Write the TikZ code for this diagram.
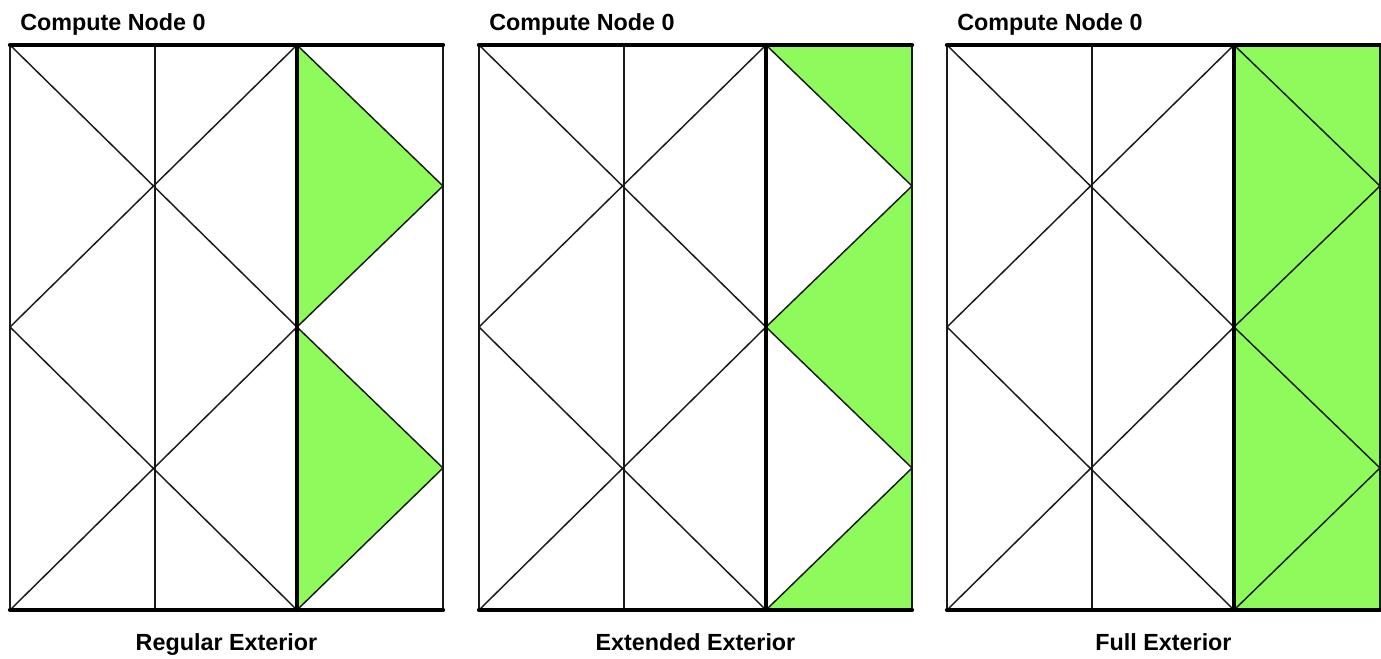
\documentclass[tikz,border=0pt]{standalone}
\usepackage{fontspec}
\setmainfont{Liberation Sans}
\usetikzlibrary{positioning}
\definecolor{Mesh}{HTML}{1A1A1A}
\definecolor{Ghost}{HTML}{8FFA5C}

\begin{document}
\begin{tikzpicture}[x=0.75pt,y=-0.75pt,
    meshline/.style={draw=Mesh,line width=1.1pt},
    boundline/.style={draw=black,line width=3.2pt,line cap=round},
    ghostcell/.style={fill=Ghost},
    paneltitle/.style={anchor=base west,font=\bfseries\fontsize{17.5}{20}\selectfont,inner sep=0pt},
    panelcap/.style={anchor=base,font=\bfseries\fontsize{17.5}{20}\selectfont,inner sep=0pt}
]
\useasboundingbox (0,0) rectangle (1381,658);
% ghost cells
\begin{scope}[shift={(10,0)}]
    \fill[ghostcell] (287,45) -- (433,186) -- (287,327) -- cycle;
    \fill[ghostcell] (287,327) -- (433,468) -- (287,610) -- cycle;
\end{scope}
\begin{scope}[shift={(479,0)}]
    \fill[ghostcell] (287,45) -- (433,45) -- (433,186) -- cycle;
    \fill[ghostcell] (433,186) -- (287,327) -- (433,468) -- cycle;
    \fill[ghostcell] (433,468) -- (287,610) -- (433,610) -- cycle;
\end{scope}
\begin{scope}[shift={(947,0)}]
    \fill[ghostcell] (287,45) rectangle (433,610);
\end{scope}
% meshes
\foreach \o/\lab/\name in {10/Regular Exterior/reg,479/Extended Exterior/ext,947/Full Exterior/full}{
    \begin{scope}[shift={(\o,0)}]
        \draw[meshline] (0,45) -- (0,610);
        \draw[meshline] (145,45) -- (145,610);
        \draw[meshline] (433,45) -- (433,610);
        \draw[meshline] (0,45) -- (287,327) -- (0,610);
        \draw[meshline] (287,45) -- (0,327) -- (287,610);
        \draw[meshline] (287,45) -- (433,186) -- (287,327) -- (433,468) -- (287,610);
        \draw[boundline] (0,45) -- (433,45);
        \draw[boundline] (0,610) -- (433,610);
        \draw[boundline] (287,45) -- (287,610);
    \end{scope}
    \node[paneltitle] (\name-title) at (\o+10,30) {Compute Node 0};
    \node[panelcap] (\name-cap) at (\o+216.5,650) {\lab};
}
\end{tikzpicture}
\end{document}
